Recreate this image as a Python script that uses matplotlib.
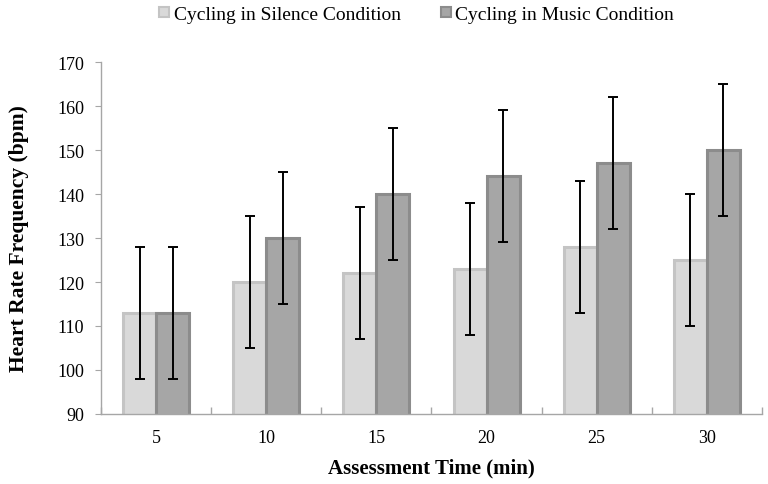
import matplotlib
matplotlib.use("Agg")
import matplotlib.pyplot as plt
import numpy as np
from matplotlib.lines import Line2D

categories = ["5", "10", "15", "20", "25", "30"]
silence = [113, 120, 122, 123, 128, 125]
music = [113, 130, 140, 144, 147, 150]
silence_err = [15, 15, 15, 15, 15, 15]
music_err = [15, 15, 15, 15, 15, 15]

plt.rcParams['font.family'] = ['Liberation Serif', 'DejaVu Serif']

fig = plt.figure(figsize=(7.68, 4.85), dpi=100)
ax = fig.add_axes([101/768, 1 - 415/485, 661/768, 352/485])

x = np.arange(len(categories))
w = 0.3
sil_face, sil_edge = '#d9d9d9', '#c4c4c4'
mus_face, mus_edge = '#a6a6a6', '#8c8c8c'
ax.bar(x - w/2, silence, w, color=sil_face, edgecolor=sil_edge, linewidth=2.2, zorder=2)
ax.bar(x + w/2, music, w, color=mus_face, edgecolor=mus_edge, linewidth=2.2, zorder=2)
ax.errorbar(x - w/2, silence, yerr=silence_err, fmt='none', ecolor='black', elinewidth=1.4, capsize=3.8, capthick=1.4, zorder=3)
ax.errorbar(x + w/2, music, yerr=music_err, fmt='none', ecolor='black', elinewidth=1.4, capsize=3.8, capthick=1.4, zorder=3)

ax.set_ylim(90, 170)
ax.set_yticks(np.arange(90, 171, 10))
ax.set_xlim(-0.5, len(categories) - 0.5)
ax.set_xticks(x)
ax.set_xticklabels(categories)
ax.set_xticks(np.arange(-0.5, len(categories), 1), minor=True)
ax.tick_params(axis='x', which='major', length=0, labelsize=13, pad=11)
ax.tick_params(axis='x', which='minor', direction='in', length=5, color='#a6a6a6', width=1.0)
ax.tick_params(axis='y', direction='out', length=4, color='#a6a6a6', labelsize=13, pad=8)

for s in ['top', 'right']:
    ax.spines[s].set_visible(False)
for s in ['left', 'bottom']:
    ax.spines[s].set_color('#a6a6a6')
    ax.spines[s].set_linewidth(1.0)

ax.set_ylabel('Heart Rate Frequency (bpm)', fontsize=15.5, fontweight='bold', va='center')
ax.yaxis.set_label_coords((19 - 101) / 661, 0.5)
ax.set_xlabel('Assessment Time (min)', fontsize=15, fontweight='bold', va='center')
ax.xaxis.set_label_coords(0.5, (415 - 468) / 352)

handles = [
    Line2D([], [], marker='s', linestyle='none', markersize=7, markerfacecolor=sil_face, markeredgecolor=sil_edge, markeredgewidth=1.5),
    Line2D([], [], marker='s', linestyle='none', markersize=7, markerfacecolor=mus_face, markeredgecolor=mus_edge, markeredgewidth=1.5),
]
fig.legend(handles, ['Cycling in Silence Condition', 'Cycling in Music Condition'],
           loc='upper right', bbox_to_anchor=(674/768, 1 - 6/485), ncol=2, frameon=False,
           fontsize=14, handletextpad=0.2, columnspacing=2.0, handlelength=0.6,
           borderpad=0, borderaxespad=0)

fig.savefig('out.png', dpi=100)
